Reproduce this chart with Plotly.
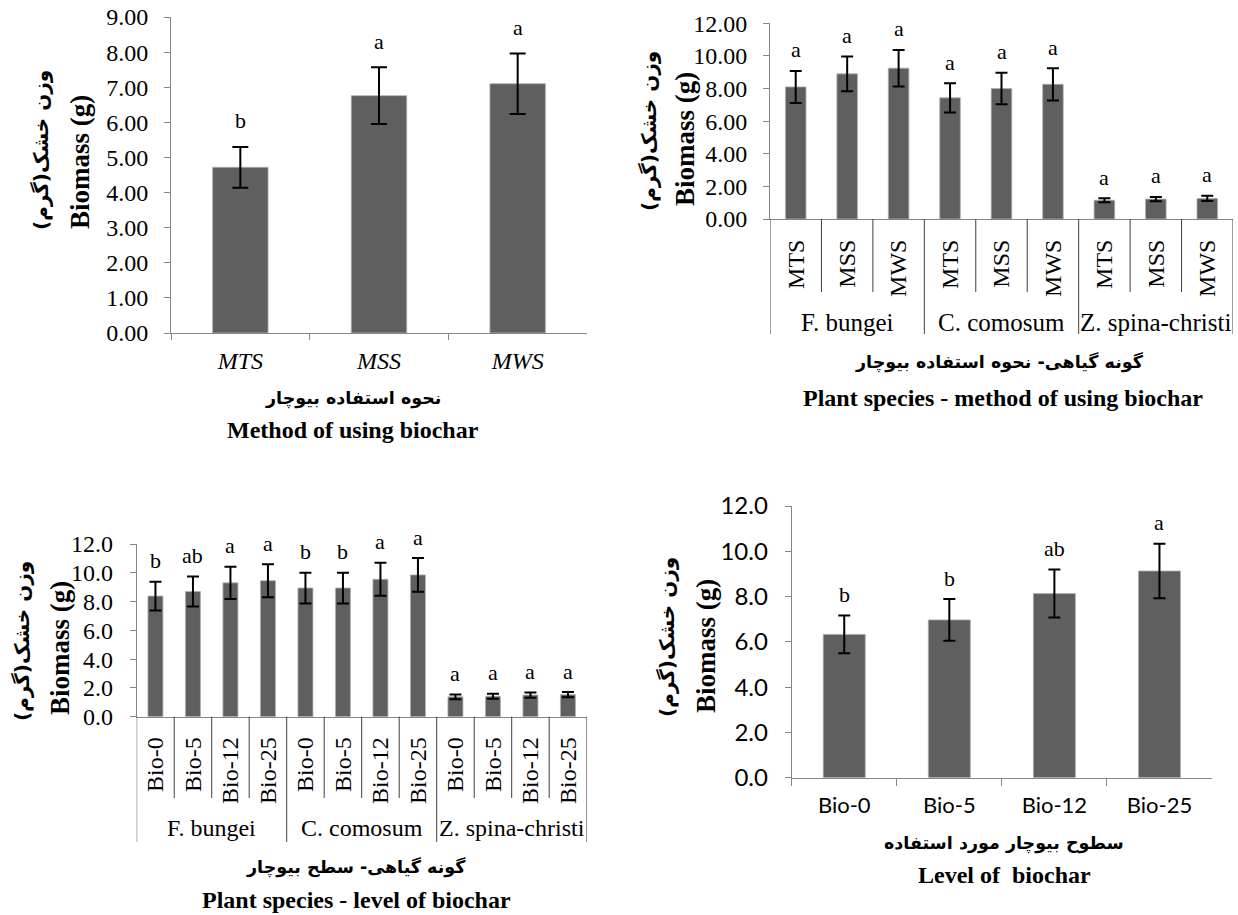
import plotly.graph_objects as go

# ---------------- data ----------------
p1_methods = ["MTS", "MSS", "MWS"]
p1_mean = [4.72, 6.76, 7.10]
p1_err = [0.58, 0.81, 0.86]
p1_letters = ["b", "a", "a"]

p2_species = ["F. bungei", "C. comosum", "Z. spina-christi"]
p2_methods = ["MTS", "MSS", "MWS"]
p2_mean = [8.10, 8.90, 9.25, 7.43, 8.00, 8.26, 1.15, 1.22, 1.26]
p2_err = [0.98, 1.06, 1.12, 0.90, 0.97, 0.99, 0.13, 0.13, 0.16]
p2_letters = ["a", "a", "a", "a", "a", "a", "a", "a", "a"]

p3_species = ["F. bungei", "C. comosum", "Z. spina-christi"]
p3_levels = ["Bio-0", "Bio-5", "Bio-12", "Bio-25"]
p3_mean = [8.38, 8.70, 9.30, 9.45, 8.94, 8.94, 9.55, 9.85, 1.38, 1.42, 1.50, 1.53]
p3_err = [1.00, 1.04, 1.12, 1.15, 1.07, 1.07, 1.15, 1.17, 0.17, 0.17, 0.18, 0.18]
p3_letters = ["b", "ab", "a", "a", "b", "b", "a", "a", "a", "a", "a", "a"]

p4_levels = ["Bio-0", "Bio-5", "Bio-12", "Bio-25"]
p4_mean = [6.33, 6.97, 8.13, 9.13]
p4_err = [0.83, 0.92, 1.06, 1.20]
p4_letters = ["b", "b", "ab", "a"]

y_title_fa = "وزن خشک(گرم)"
y_title_en = "Biomass (g)"
p1_xt_fa = "نحوه استفاده بیوچار"
p1_xt_en = "Method of using biochar"
p2_xt_fa = "گونه گیاهی- نحوه استفاده بیوچار"
p2_xt_en = "Plant species - method of using biochar"
p3_xt_fa = "گونه گیاهی- سطح بیوچار"
p3_xt_en = "Plant species - level of biochar"
p4_xt_fa = "سطوح بیوچار مورد استفاده"
p4_xt_en = "Level of  biochar"

# ---------------- layout helpers ----------------
W, H = 1238, 915
def px(x):
    return x / W
def py(y):
    return 1 - y / H

SERIF = "Liberation Serif, Times New Roman, serif"
FA = "DejaVu Sans, Noto Sans, sans-serif"
SANS = "Lato, Carlito, Calibri, sans-serif"
BAR = "#5f5f5f"
AX = "#868686"
DIV = "#404040"
TICK = 24

fig = go.Figure()

def add_bars(x, y, err, xa, ya, cap):
    fig.add_trace(go.Bar(
        x=x, y=y, xaxis=xa, yaxis=ya,
        marker=dict(color=BAR, line=dict(color="#b0b0b0", width=0.8)),
        error_y=dict(type="data", array=err, color="black", thickness=2, width=cap),
        showlegend=False))

# panel categories
p2_cats = [s + "|" + m for s in p2_species for m in p2_methods]
p2_ticks = [m for s in p2_species for m in p2_methods]
p3_cats = [s + "|" + l for s in p3_species for l in p3_levels]
p3_ticks = [l for s in p3_species for l in p3_levels]

add_bars(p1_methods, p1_mean, p1_err, "x", "y", 8)
add_bars(p2_cats, p2_mean, p2_err, "x2", "y2", 6)
add_bars(p3_cats, p3_mean, p3_err, "x3", "y3", 6)
add_bars(p4_levels, p4_mean, p4_err, "x4", "y4", 6)

annotations = []
def letters(cats, mean, err, labs, xref, yref, shift, size=22):
    for c, m, e, t in zip(cats, mean, err, labs):
        annotations.append(dict(x=c, y=m + e, xref=xref, yref=yref, text=t,
                                showarrow=False, yshift=shift, yanchor="middle",
                                font=dict(family=SERIF, size=size, color="black")))

letters(p1_methods, p1_mean, p1_err, p1_letters, "x", "y", 26)
letters(p2_cats, p2_mean, p2_err, p2_letters, "x2", "y2", 21)
letters(p3_cats, p3_mean, p3_err, p3_letters, "x3", "y3", 21)
letters(p4_levels, p4_mean, p4_err, p4_letters, "x4", "y4", 21)

def text(x, y, t, fam, size, angle=0, bold=True):
    annotations.append(dict(x=px(x), y=py(y), xref="paper", yref="paper",
                            text=("<b>" + t + "</b>") if bold else t,
                            showarrow=False, textangle=angle,
                            xanchor="center", yanchor="middle",
                            font=dict(family=fam, size=size, color="black")))

# y titles
for (xf, yf, xe, ye) in [(41, 150, 80, 162), (649, 131, 685, 139),
                         (22, 641, 60, 648), (667, 637, 706, 646)]:
    text(xf, yf, y_title_fa, FA, 20, -90)
    text(xe, ye, y_title_en, SERIF, 27, -90)

# x titles
text(353, 398, p1_xt_fa, FA, 17.5)
text(353, 430, p1_xt_en, SERIF, 24)
text(1000, 362, p2_xt_fa, FA, 17.5)
text(1003, 398, p2_xt_en, SERIF, 24)
text(356, 867, p3_xt_fa, FA, 17.5)
text(356, 900, p3_xt_en, SERIF, 24)
text(1004, 843, p4_xt_fa, FA, 17.5)
text(1004, 875, p4_xt_en, SERIF, 24)

# group labels for the two-level axes
for g, s in enumerate(p2_species):
    annotations.append(dict(x=g * len(p2_methods) + (len(p2_methods) - 1) / 2, y=py(322),
                            xref="x2", yref="paper", text=s, showarrow=False,
                            yanchor="middle", font=dict(family=SERIF, size=25, color="black")))
for g, s in enumerate(p3_species):
    annotations.append(dict(x=g * len(p3_levels) + (len(p3_levels) - 1) / 2, y=py(828),
                            xref="x3", yref="paper", text=s, showarrow=False,
                            yanchor="middle", font=dict(family=SERIF, size=24, color="black")))

# divider lines for the two-level axes
shapes = []
def dividers(n, per, xref, y_axis, y_sub, y_grp):
    for i in range(n + 1):
        shapes.append(dict(type="line", xref=xref, yref="paper",
                           x0=i - 0.5, x1=i - 0.5, y0=py(y_axis),
                           y1=py(y_grp if i % per == 0 else y_sub),
                           line=dict(color=DIV, width=1)))
dividers(len(p2_cats), len(p2_methods), "x2", 219, 292, 334)
dividers(len(p3_cats), len(p3_levels), "x3", 716.7, 798, 842)

def yaxis(dom, rng, dt, fmt, fam, anchor, standoff):
    return dict(domain=[py(dom[1]), py(dom[0])], range=rng, dtick=dt, tick0=0,
                tickformat=fmt, showgrid=False, zeroline=False, showline=True,
                linecolor=AX, linewidth=1, ticks="outside", ticklen=6, tickcolor=AX,
                tickfont=dict(family=fam, size=TICK, color="black"), anchor=anchor,
                ticklabelstandoff=standoff, automargin=False, fixedrange=True)

def xaxis(dom, n, anchor, **kw):
    d = dict(domain=[px(dom[0]), px(dom[1])], range=[-0.5, n - 0.5], type="category",
             showgrid=False, zeroline=False, showline=True, linecolor=AX, linewidth=1,
             anchor=anchor, automargin=False, fixedrange=True)
    d.update(kw)
    return d

fig.update_layout(
    width=W, height=H, autosize=False,
    margin=dict(l=0, r=0, t=0, b=0),
    paper_bgcolor="white", plot_bgcolor="white",
    bargap=0.6,
    xaxis=xaxis((171, 587), 3, "y", ticks="outside", tickson="boundaries", ticklen=6,
                tickcolor=AX, tickfont=dict(family=SERIF, size=TICK, color="black", style="italic"),
                ticklabelstandoff=6),
    yaxis=yaxis((17, 333), [0, 9], 1, ".2f", SERIF, "x", 11),
    xaxis2=xaxis((770, 1233), len(p2_cats), "y2", ticks="", tickangle=-90,
                 tickvals=p2_cats, ticktext=p2_ticks, ticklabelstandoff=10,
                 tickfont=dict(family=SERIF, size=TICK, color="black")),
    yaxis2=yaxis((23.3, 219), [0, 12], 2, ".2f", SERIF, "x2", 11),
    xaxis3=xaxis((136.7, 586.7), len(p3_cats), "y3", ticks="", tickangle=-90,
                 tickvals=p3_cats, ticktext=p3_ticks, ticklabelstandoff=10,
                 tickfont=dict(family=SERIF, size=TICK, color="black")),
    yaxis3=yaxis((544, 716.7), [0, 12], 2, ".1f", SERIF, "x3", 12),
    xaxis4=xaxis((791.7, 1212), 4, "y4", ticks="outside", tickson="boundaries", ticklen=7,
                 tickcolor=AX, tickfont=dict(family=SANS, size=22, color="black"),
                 ticklabelstandoff=8),
    yaxis4=yaxis((506, 777.7), [0, 12], 2, ".1f", SANS, "x4", 12),
    annotations=annotations,
    shapes=shapes,
)

fig.write_html("out.html", config={"displayModeBar": False},
               post_script="document.body.style.margin='0';")
